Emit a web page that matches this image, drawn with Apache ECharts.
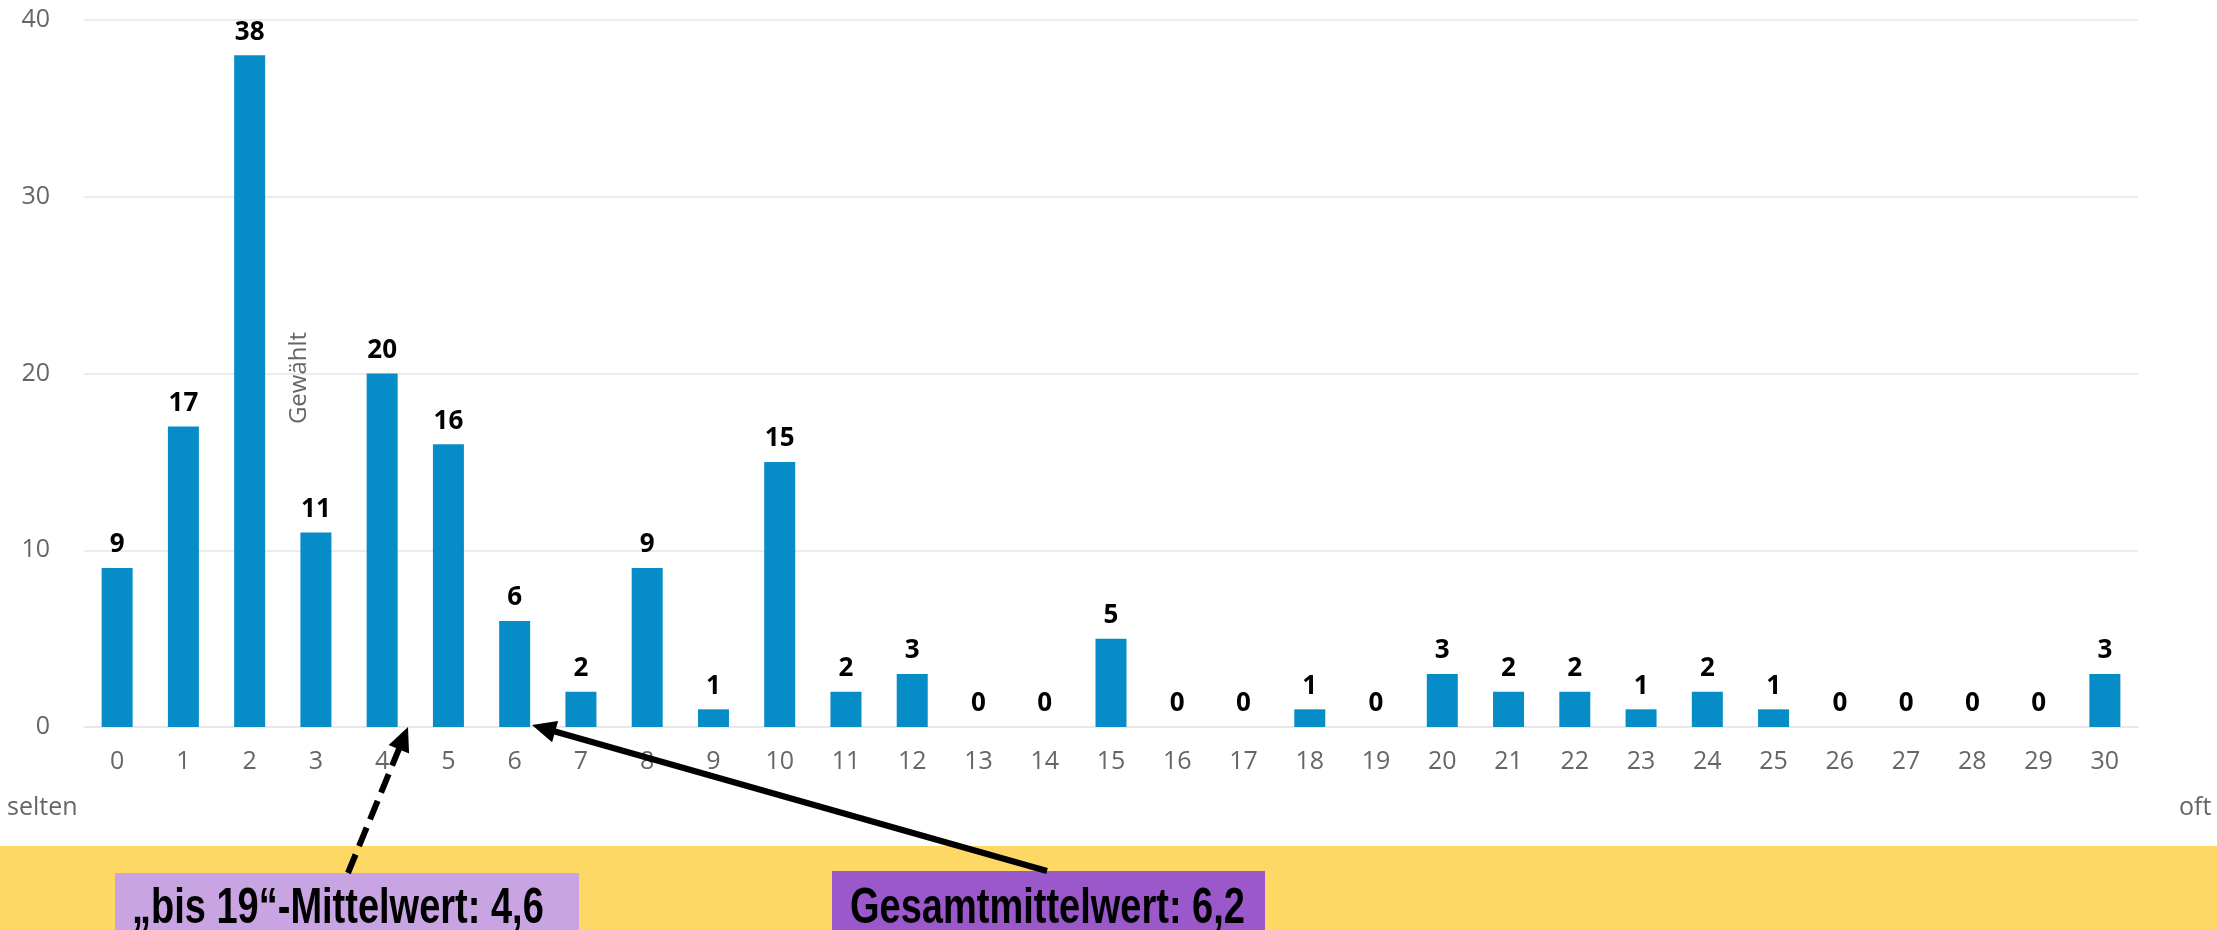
<!DOCTYPE html>
<html>
<head>
<meta charset="utf-8">
<script src="https://cdn.jsdelivr.net/npm/echarts@6/dist/echarts.min.js"></script>
<style>
html,body{margin:0;padding:0;background:#fff;}
#c{width:2217px;height:930px;}
</style>
</head>
<body>
<div id="c"></div>
<script>
// ---- data ----
var categories = ['0','1','2','3','4','5','6','7','8','9','10','11','12','13','14','15','16','17','18','19','20','21','22','23','24','25','26','27','28','29','30'];
var values = [9,17,38,11,20,16,6,2,9,1,15,2,3,0,0,5,0,0,1,0,3,2,2,1,2,1,0,0,0,0,3];
var yTicks = [0,10,20,30,40];
var yAxisName = 'Gewählt';
var leftLabel = 'selten';
var rightLabel = 'oft';
var meanSub = '„bis 19“-Mittelwert: 4,6';
var meanAll = 'Gesamtmittelwert: 6,2';

var chart = echarts.init(document.getElementById('c'), null, {renderer:'canvas'});
var FONT = '"Open Sans", "DejaVu Sans", sans-serif';
var BOXFONT = '"Liberation Sans", Arial, sans-serif';

function arrow(x1, y1, x2, y2, dashed) {
  var dx = x2 - x1, dy = y2 - y1, L = Math.sqrt(dx*dx + dy*dy);
  var ux = dx / L, uy = dy / L;
  var hl = 24, hw = 11;
  var bx = x2 - ux*hl, by = y2 - uy*hl;
  var px = -uy, py = ux;
  return [
    {type:'line', shape:{x1:x1, y1:y1, x2:bx + ux*2, y2:by + uy*2},
     style:{stroke:'#000', lineWidth:6, lineDash: dashed ? [20, 9] : null}, z:10},
    {type:'polygon', shape:{points:[[x2,y2],[bx+px*hw, by+py*hw],[bx-px*hw, by-py*hw]]},
     style:{fill:'#000'}, z:10}
  ];
}

var graphics = [
  {type:'rect', shape:{x:0, y:846, width:2217, height:84}, style:{fill:'#FED865'}, z:1},
  {type:'rect', shape:{x:115, y:873, width:464, height:57}, style:{fill:'#C8A5E2'}, z:2},
  {type:'rect', shape:{x:832, y:871, width:433, height:59}, style:{fill:'#9A58CB'}, z:2},
  {type:'text', x:132, y:909, scaleX:0.76, style:{x:0, y:0, text:meanSub, fill:'#000', font:'bold 50px ' + BOXFONT, verticalAlign:'middle', textVerticalAlign:'middle'}, z:3},
  {type:'text', x:850, y:909, scaleX:0.76, style:{x:0, y:0, text:meanAll, fill:'#000', font:'bold 50px ' + BOXFONT, verticalAlign:'middle', textVerticalAlign:'middle'}, z:3},
  {type:'text', x:7, y:808, style:{text:leftLabel, fill:'#666', font:'25px ' + FONT, verticalAlign:'middle', textVerticalAlign:'middle'}, z:3},
  {type:'text', x:2179, y:808, style:{text:rightLabel, fill:'#666', font:'25px ' + FONT, verticalAlign:'middle', textVerticalAlign:'middle'}, z:3},
  {type:'text', x:299, y:378, rotation:Math.PI/2, style:{text:yAxisName, fill:'#666', font:'24px ' + FONT, align:'center', textAlign:'center', verticalAlign:'middle', textVerticalAlign:'middle'}, z:3}
].concat(arrow(348, 873, 408, 727, true)).concat(arrow(1047, 871, 532, 725, false));

chart.setOption({
  animation:false,
  backgroundColor:'#fff',
  grid:{left:84, right:79, top:20, bottom:203, containLabel:false},
  xAxis:{
    type:'category', data:categories, boundaryGap:true,
    axisTick:{show:false},
    axisLine:{show:true, lineStyle:{color:'#e6e6e6', width:1.5}},
    axisLabel:{color:'#666', fontSize:25, fontFamily:FONT, margin:22, interval:0}
  },
  yAxis:{
    type:'value', min:yTicks[0], max:yTicks[yTicks.length-1], interval:10,
    axisLine:{show:false}, axisTick:{show:false},
    splitLine:{lineStyle:{color:'#e6e6e6', width:1.5}},
    axisLabel:{color:'#666', fontSize:25, fontFamily:FONT, margin:34}
  },
  series:[{
    type:'bar', data:values, barWidth:31,
    itemStyle:{color:'#068CC7'},
    label:{show:true, position:'top', distance:10, color:'#000', fontWeight:'bold', fontSize:26, fontFamily:FONT}
  }],
  graphic:graphics
});
</script>
</body>
</html>
